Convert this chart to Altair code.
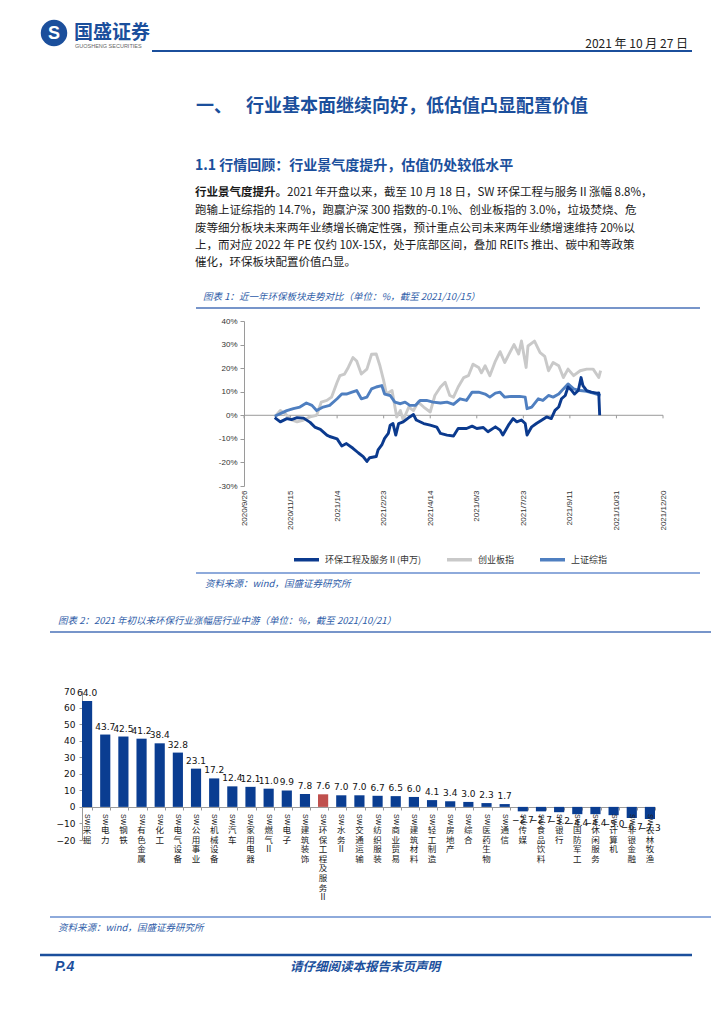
import altair as alt
import pandas as pd

FONT = "Noto Sans CJK SC"
LATIN = "Liberation Sans"
NAVY = "#1b4f9c"
CAP_BLUE = "#2e5ca8"
CAP_RULE = "#4a72b8"
LIGHT_RULE = "#8eaadb"
AXIS_GREY = "#9a9a9a"

# ---------------- Chart 1 data (index performance, %) ----------------
series_names = ["环保工程及服务Ⅱ(申万)", "创业板指", "上证综指"]
series_colors = ["#0b3a8e", "#c9c9c9", "#4f7fc0"]

env_dates = ["2020-10-29", "2020-11-04", "2020-11-11", "2020-11-16", "2020-11-22", "2020-11-29",
             "2020-12-06", "2020-12-11", "2020-12-17", "2020-12-24", "2020-12-27", "2021-01-04",
             "2021-01-09", "2021-01-14", "2021-01-21", "2021-01-27", "2021-02-01", "2021-02-05",
             "2021-02-08", "2021-02-15", "2021-02-17", "2021-02-21", "2021-02-24", "2021-02-28",
             "2021-03-02", "2021-03-05", "2021-03-08", "2021-03-11", "2021-03-16", "2021-03-23",
             "2021-03-27", "2021-03-30", "2021-04-07", "2021-04-14", "2021-04-21", "2021-04-25",
             "2021-05-02", "2021-05-09", "2021-05-14", "2021-05-23", "2021-05-29", "2021-06-03",
             "2021-06-10", "2021-06-15", "2021-06-23", "2021-06-28", "2021-07-01", "2021-07-07",
             "2021-07-12", "2021-07-16", "2021-07-21", "2021-07-25", "2021-07-27", "2021-08-01",
             "2021-08-06", "2021-08-12", "2021-08-17", "2021-08-22", "2021-08-26", "2021-08-30",
             "2021-09-02", "2021-09-06", "2021-09-09", "2021-09-13", "2021-09-16", "2021-09-20",
             "2021-09-23", "2021-09-25", "2021-09-29", "2021-10-04", "2021-10-10", "2021-10-12",
             "2021-10-13"]
env_values = [-1.0, -2.8, -1.4, -1.8, -1.0, -1.2,
              -3.0, -5.0, -6.0, -8.4, -9.0, -10.0,
              -13.0, -12.0, -14.0, -16.0, -17.5, -19.6,
              -18.0, -17.5, -14.7, -12.6, -9.8, -7.7,
              -4.2, -3.5, -8.4, -3.5, -2.8, -0.7,
              0.3, -2.0, -3.5, -4.2, -5.0, -7.7,
              -8.4, -8.8, -5.6, -5.6, -4.6, -5.6,
              -5.2, -7.0, -4.9, -6.3, -8.4, -4.2,
              -1.4, -2.8, -2.0, -3.5, -8.4, -4.9,
              -3.5, -2.0, -0.7, -1.4, 2.1, 3.5,
              7.0, 8.4, 12.0, 10.5, 9.0, 10.5,
              16.0, 12.6, 10.5, 9.8, 9.4, 9.5,
              0.0]

gem_dates = ["2020-10-29", "2020-11-04", "2020-11-09", "2020-11-16", "2020-11-22", "2020-11-29",
             "2020-12-06", "2020-12-13", "2020-12-18", "2020-12-24", "2020-12-29", "2021-01-04",
             "2021-01-07", "2021-01-12", "2021-01-16", "2021-01-21", "2021-01-25", "2021-01-30",
             "2021-02-05", "2021-02-10", "2021-02-15", "2021-02-19", "2021-02-23", "2021-02-26",
             "2021-03-04", "2021-03-09", "2021-03-13", "2021-03-16", "2021-03-22", "2021-03-27",
             "2021-04-01", "2021-04-07", "2021-04-14", "2021-04-19", "2021-04-25", "2021-04-30",
             "2021-05-05", "2021-05-09", "2021-05-14", "2021-05-20", "2021-05-25", "2021-05-30",
             "2021-06-05", "2021-06-08", "2021-06-12", "2021-06-17", "2021-06-23", "2021-06-28",
             "2021-07-03", "2021-07-09", "2021-07-13", "2021-07-18", "2021-07-21", "2021-07-26",
             "2021-07-28", "2021-08-04", "2021-08-10", "2021-08-15", "2021-08-19", "2021-08-24",
             "2021-08-30", "2021-09-04", "2021-09-09", "2021-09-15", "2021-09-22", "2021-09-29",
             "2021-10-06", "2021-10-12", "2021-10-14"]
gem_values = [-0.7, 2.0, 0.7, -2.0, -2.8, -2.0,
              -0.7, 0.0, 5.6, 6.3, 7.7, 14.0,
              16.8, 17.5, 20.3, 24.5, 23.0, 17.5,
              19.6, 25.9, 26.0, 21.0, 14.7, 9.0,
              10.5, -0.7, 2.0, -2.0, 3.5, 2.0,
              5.6, 3.5, 1.4, 8.4, 12.0, 14.0,
              8.4, 7.7, 12.0, 16.0, 16.8, 21.7,
              20.3, 18.0, 21.0, 16.8, 23.0, 27.0,
              22.4, 27.0, 30.0, 26.0, 31.5, 20.3,
              29.4, 31.5, 26.6, 25.0, 18.9, 22.4,
              21.0, 16.0, 19.6, 16.8, 18.9, 19.6,
              19.6, 16.0, 18.9]

sh_dates = ["2020-10-29", "2020-11-04", "2020-11-11", "2020-11-18", "2020-11-25", "2020-12-02",
            "2020-12-08", "2020-12-13", "2020-12-20", "2020-12-27", "2021-01-04", "2021-01-09",
            "2021-01-14", "2021-01-20", "2021-01-25", "2021-01-30", "2021-02-05", "2021-02-10",
            "2021-02-15", "2021-02-21", "2021-02-24", "2021-03-02", "2021-03-07", "2021-03-13",
            "2021-03-18", "2021-03-23", "2021-03-29", "2021-04-03", "2021-04-10", "2021-04-17",
            "2021-04-25", "2021-05-02", "2021-05-09", "2021-05-16", "2021-05-23", "2021-05-29",
            "2021-06-05", "2021-06-12", "2021-06-17", "2021-06-23", "2021-06-28", "2021-07-03",
            "2021-07-10", "2021-07-19", "2021-07-25", "2021-07-27", "2021-08-01", "2021-08-08",
            "2021-08-13", "2021-08-19", "2021-08-24", "2021-08-30", "2021-09-04", "2021-09-09",
            "2021-09-15", "2021-09-22", "2021-09-29", "2021-10-06", "2021-10-14"]
sh_values = [-0.4, 0.7, 2.0, 2.8, 3.5, 5.2,
             4.2, 2.0, 3.5, 4.2, 7.0, 9.0,
             9.0, 9.8, 10.5, 7.0, 7.7, 11.2,
             12.0, 12.6, 9.0, 8.4, 5.6, 4.9,
             5.6, 4.2, 4.2, 6.3, 6.3, 5.6,
             5.2, 5.6, 4.6, 7.0, 6.3, 9.8,
             9.8, 9.0, 7.7, 9.4, 9.8, 7.7,
             8.0, 8.0, 7.7, 2.8, 3.5, 7.0,
             6.3, 8.4, 7.7, 9.0, 11.2, 13.3,
             11.2, 10.5, 10.2, 9.4, 8.4]

x_tick_dates = ["2020-09-26", "2020-11-15", "2021-01-04", "2021-02-23", "2021-04-14",
                "2021-06-03", "2021-07-23", "2021-09-11", "2021-10-31", "2021-12-20"]
y1_ticks = [-30, -20, -10, 0, 10, 20, 30, 40]

# ---------------- Chart 2 data (YTD return by industry, %) ----------------
industries = ["SW采掘", "SW电力", "SW钢铁", "SW有色金属", "SW化工", "SW电气设备", "SW公用事业",
              "SW机械设备", "SW汽车", "SW家用电器", "SW燃气Ⅱ", "SW电子", "SW建筑装饰",
              "SW环保工程及服务Ⅱ", "SW水务Ⅱ", "SW交通运输", "SW纺织服装", "SW商业贸易",
              "SW建筑材料", "SW轻工制造", "SW房地产", "SW综合", "SW医药生物", "SW通信",
              "SW传媒", "SW食品饮料", "SW银行", "SW国防军工", "SW休闲服务", "SW计算机",
              "SW非银金融", "SW农林牧渔"]
returns = [64.0, 43.7, 42.5, 41.2, 38.4, 32.8, 23.1,
           17.2, 12.4, 12.1, 11.0, 9.9, 7.8,
           7.6, 7.0, 7.0, 6.7, 6.5,
           6.0, 4.1, 3.4, 3.0, 2.3, 1.7,
           -2.7, -2.7, -3.2, -4.4, -4.4, -5.0,
           -6.7, -7.3]
highlight = "SW环保工程及服务Ⅱ"
y2_ticks = [-20, -10, 0, 10, 20, 30, 40, 50, 60, 70]

# ---------------- page text ----------------
para_lines = [
    "2021 年开盘以来，截至 10 月 18 日，SW 环保工程与服务Ⅱ涨幅 8.8%，",
    "跑输上证综指的 14.7%，跑赢沪深 300 指数的-0.1%、创业板指的 3.0%，垃圾焚烧、危",
    "废等细分板块未来两年业绩增长确定性强，预计重点公司未来两年业绩增速维持 20%以",
    "上，而对应 2022 年 PE 仅约 10X-15X，处于底部区间，叠加 REITs 推出、碳中和等政策",
    "催化，环保板块配置价值凸显。",
]

dummy = pd.DataFrame({"d": [0]})


def txt(x, y, s, size, color="#1a1a1a", weight="normal", style="normal",
        align="left", font=FONT, baseline="middle"):
    return alt.Chart(dummy).mark_text(
        text=s, fontSize=size, color=color, fontWeight=weight, fontStyle=style,
        align=align, baseline=baseline, font=font
    ).encode(x=alt.value(x), y=alt.value(y))


def hrule(x1, x2, y, color, w):
    return alt.Chart(dummy).mark_rule(color=color, strokeWidth=w).encode(
        x=alt.value(x1), x2=alt.value(x2), y=alt.value(y))


def dt(s):
    y, m, d = map(int, s.split("-"))
    return alt.DateTime(year=y, month=m, date=d, utc=True)


# ================= Row A : header, text, line chart =================
W = 708
HA = 597

x1_scale = alt.Scale(type="utc", domain=[dt(x_tick_dates[0]), dt(x_tick_dates[-1])],
                     range=[236, 655], nice=False)
x1_axis = alt.Axis(orient="bottom", offset=-119, values=[dt(s) for s in x_tick_dates],
                   format="%Y/%-m/%-d", labelAngle=270, labelFont=LATIN, labelFontSize=8,
                   labelColor="#333", labelPadding=4, labelFlush=False, labelOverlap=False,
                   domain=False, ticks=False, grid=False, title=None)
y1_scale = alt.Scale(domain=[-30, 40], range=[478, 313], nice=False, zero=False)
y1_axis = alt.Axis(orient="left", offset=-236, values=y1_ticks, labelExpr="datum.value + '%'",
                   labelFont=LATIN, labelFontSize=8, labelColor="#333", labelPadding=3,
                   domainColor=AXIS_GREY, tickColor=AXIS_GREY, tickSize=4, grid=False, title=None)


def X1(field):
    return alt.X(field + ":T", scale=x1_scale, axis=x1_axis)


def Y1(field):
    return alt.Y(field + ":Q", scale=y1_scale, axis=y1_axis)


line_df = pd.concat([
    pd.DataFrame({"date": env_dates, "value": env_values, "series": series_names[0]}),
    pd.DataFrame({"date": gem_dates, "value": gem_values, "series": series_names[1]}),
    pd.DataFrame({"date": sh_dates, "value": sh_values, "series": series_names[2]}),
], ignore_index=True)

color_enc = alt.Color(
    "series:N",
    scale=alt.Scale(domain=series_names, range=series_colors),
    legend=alt.Legend(orient="none", legendX=284, legendY=537, direction="horizontal",
                      title=None, symbolType="stroke", symbolStrokeWidth=3.5, symbolSize=625,
                      labelFont=FONT, labelFontSize=9, labelColor="#333",
                      columnPadding=18, labelOffset=4),
)

zero_df = pd.DataFrame({"s": [x_tick_dates[0]], "e": [x_tick_dates[-1]], "v": [0]})
tick_df = pd.DataFrame({"d": x_tick_dates, "y0": [0] * len(x_tick_dates),
                        "y1": [-1.3] * len(x_tick_dates)})

zero_line = alt.Chart(zero_df).mark_rule(color=AXIS_GREY, strokeWidth=1).encode(
    x=X1("s"), x2=alt.X2("e:T"), y=Y1("v"))
zero_ticks = alt.Chart(tick_df).mark_rule(color=AXIS_GREY, strokeWidth=1).encode(
    x=X1("d"), y=Y1("y0"), y2=alt.Y2("y1:Q"))

line_layers = []
for name in [series_names[1], series_names[2], series_names[0]]:
    line_layers.append(
        alt.Chart(line_df).transform_filter(alt.datum.series == name)
        .mark_line(strokeWidth=2.9, strokeJoin="round")
        .encode(x=X1("date"), y=Y1("value"), color=color_enc)
    )

logo_circle = alt.Chart(dummy).mark_point(shape="circle", filled=True, size=700, color=NAVY,
                                          opacity=1).encode(x=alt.value(46), y=alt.value(25))

rowA_text = [
    logo_circle,
    txt(46, 26, "S", 18, color="white", weight="bold", align="center", font=LATIN),
    txt(66, 25, "国盛证券", 19, color=NAVY, weight="bold"),
    txt(67, 38, "GUOSHENG SECURITIES", 5.5, color="#666", font=LATIN),
    txt(680, 36, "2021 年 10 月 27 日", 12, color="#222", align="right"),
    hrule(144, 684, 43, NAVY, 2.2),
    txt(188, 99, "一、", 18, color=NAVY, weight="bold"),
    txt(238, 99, "行业基本面继续向好，低估值凸显配置价值", 18, color=NAVY, weight="bold"),
    txt(187, 158, "1.1 行情回顾：行业景气度提升，估值仍处较低水平", 14, color=NAVY, weight="bold"),
    txt(187, 185, "行业景气度提升。", 11.5, weight="bold"),
    txt(279, 185, para_lines[0], 11.5),
    txt(187, 203, para_lines[1], 11.5),
    txt(187, 221, para_lines[2], 11.5),
    txt(187, 238, para_lines[3], 11.5),
    txt(187, 255, para_lines[4], 11.5),
    txt(195, 289, "图表 1：近一年环保板块走势对比（单位：%，截至 2021/10/15）", 9.5,
        color=CAP_BLUE, style="italic"),
    hrule(188, 692, 300, CAP_RULE, 1.5),
    hrule(188, 692, 565, LIGHT_RULE, 2),
    txt(197, 576, "资料来源：wind，国盛证券研究所", 9.5, color=CAP_BLUE, style="italic"),
]

rowA = alt.layer(*rowA_text, zero_line, zero_ticks, *line_layers).properties(width=W, height=HA)

# ================= Row B : bar chart, footer =================
HB = 411
bar_df = pd.DataFrame({"cat": industries, "val": returns})
bar_df["stack"] = ["\n".join(list(c[2:])) for c in industries]

xb_scale = alt.Scale(range=[74, 647], paddingInner=0.44, paddingOuter=0)
xb_axis = alt.Axis(orient="bottom", offset=-209, labels=False, title=None, grid=False,
                   domainColor=AXIS_GREY, tickColor=AXIS_GREY, tickSize=3, tickBand="extent")
yb_scale = alt.Scale(domain=[-20, 70], range=[235, 86], nice=False, zero=False)
yb_axis = alt.Axis(orient="left", offset=-74, values=y2_ticks, title=None, grid=False,
                   labelFont="DejaVu Sans", labelFontSize=9, labelColor="#111", labelPadding=4,
                   domainColor=AXIS_GREY, tickColor=AXIS_GREY, tickSize=3)

XB = alt.X("cat:N", sort=industries, scale=xb_scale, axis=xb_axis)
YB = alt.Y("val:Q", scale=yb_scale, axis=yb_axis)

bars = alt.Chart(bar_df).mark_bar().encode(
    x=XB, y=YB,
    color=alt.condition(alt.datum.cat == highlight, alt.value("#c0504d"), alt.value("#0a3d91")),
)
pos_labels = alt.Chart(bar_df).transform_filter(alt.datum.val >= 0).mark_text(
    baseline="bottom", dy=-3, font="DejaVu Sans", fontSize=9, color="#111"
).encode(x=XB, y=YB, text=alt.Text("val:Q", format=".1f"))
neg_labels = alt.Chart(bar_df).transform_filter(alt.datum.val < 0).mark_text(
    baseline="top", dy=5, font="DejaVu Sans", fontSize=9, color="#111"
).encode(x=XB, y=YB, text=alt.Text("val:Q", format=".1f"))
sw_labels = alt.Chart(bar_df).mark_text(
    text="SW", angle=90, align="left", baseline="middle", font=LATIN, fontSize=7, color="#222"
).encode(x=XB, y=alt.value(209))
cn_labels = alt.Chart(bar_df).mark_text(
    lineBreak="\n", align="center", baseline="top", font=FONT, fontSize=8.5, lineHeight=9.6,
    color="#222"
).encode(x=XB, y=alt.value(221), text="stack:N")

rowB_text = [
    txt(50, 16, "图表 2：2021 年初以来环保行业涨幅居行业中游（单位：%，截至 2021/10/21）", 9.5,
        color=CAP_BLUE, style="italic"),
    hrule(42, 703, 27, CAP_RULE, 1.5),
    hrule(42, 703, 312, LIGHT_RULE, 2),
    txt(50, 323, "资料来源：wind，国盛证券研究所", 9.5, color=CAP_BLUE, style="italic"),
    hrule(32, 684, 350, NAVY, 2.5),
    txt(47, 362, "P.4", 14, color=NAVY, weight="bold", style="italic", font=LATIN),
    txt(357, 362, "请仔细阅读本报告末页声明", 12.5, color=NAVY, weight="bold", style="italic",
        align="center"),
]

rowB = alt.layer(*rowB_text, bars, pos_labels, neg_labels, sw_labels, cn_labels).properties(
    width=W, height=HB)

chart = alt.vconcat(rowA, rowB, spacing=0).properties(padding=0).configure_view(stroke=None)

chart.save("out.html", embed_options={"renderer": "svg", "actions": False})
